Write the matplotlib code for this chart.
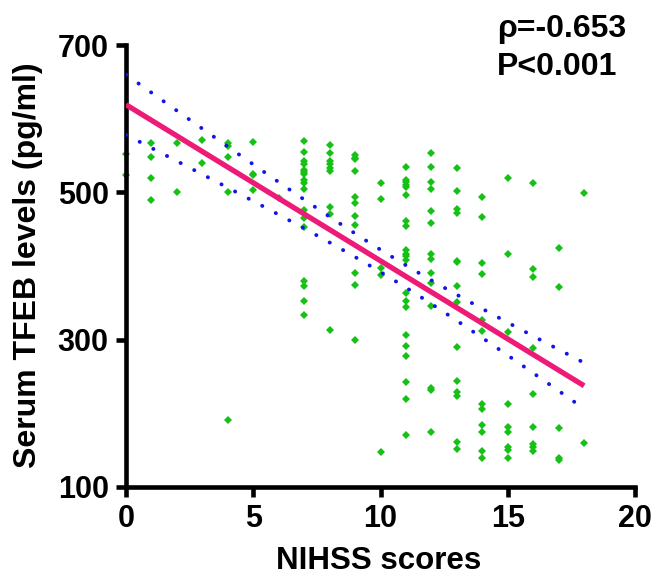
import numpy as np
import matplotlib
matplotlib.use('Agg')
import matplotlib.pyplot as plt

plt.rcParams['font.family'] = ['Liberation Sans', 'DejaVu Sans']
plt.rcParams['font.weight'] = 'bold'

# NIHSS score -> serum TFEB levels (pg/ml)
nihss_scores = list(range(19))
tfeb_levels = [
    [552, 524],
    [567, 548, 519, 489],
    [567, 500],
    [571, 540],
    [567, 563, 548, 501, 191],
    [568, 525, 523, 503],
    [492],
    [570, 555, 542, 539, 530, 528, 525, 517, 513, 504, 476, 465, 453, 380, 373, 353, 333],
    [564, 554, 542, 539, 533, 529, 480, 471, 313],
    [551, 547, 545, 529, 494, 485, 468, 456, 391, 374, 299],
    [512, 491, 397, 388, 148],
    [534, 517, 514, 510, 507, 497, 461, 454, 422, 416, 413, 408, 363, 353, 345, 307, 292, 278, 243, 220, 170],
    [554, 534, 514, 504, 475, 458, 416, 410, 390, 377, 346, 235, 232, 174],
    [533, 502, 478, 472, 407, 405, 373, 351, 290, 244, 229, 223, 161, 151],
    [494, 467, 404, 389, 327, 312, 212, 206, 184, 175, 149, 139],
    [520, 416, 310, 213, 181, 175, 154, 150, 140],
    [512, 396, 385, 289, 226, 181, 158, 154, 149],
    [425, 372, 180, 140, 137],
    [499, 160],
]

# regression line and 95% CI as drawn in the figure (some points overlap,
# so a fit on the visible points alone comes out a bit flatter)
fit_intercept = 619
fit_slope = -21.2
ci_halfwidth_at_mean = 15

rho_text = 'ρ=-0.653'
p_text = 'P<0.001'

x = np.concatenate([[s] * len(v) for s, v in zip(nihss_scores, tfeb_levels)]).astype(float)
y = np.concatenate(tfeb_levels).astype(float)

n = len(x)
xm = x.mean()
sxx = np.sum((x - xm) ** 2)
xf = np.linspace(x.min(), x.max(), 200)
yf = fit_intercept + fit_slope * xf
hw = ci_halfwidth_at_mean * np.sqrt(1 + n * (xf - xm) ** 2 / sxx)
upper = yf + hw
lower = yf - hw

fig = plt.figure(figsize=(6.54, 5.76), dpi=100)
ax = fig.add_axes([126 / 654, 1 - 487 / 576, 509 / 654, 442 / 576])

ax.plot(x, y, 'D', color='#16c116', ms=4.2, mew=0, clip_on=False, zorder=2)
ax.plot(xf, yf, color='#ee1a78', lw=3.8, solid_capstyle='butt', zorder=3)
dot = (0, (0.05, 3.9))
ax.plot(xf, upper, color='#1414e6', lw=2.8, linestyle=dot, dash_capstyle='round', zorder=3)
ax.plot(xf, lower, color='#1414e6', lw=2.8, linestyle=dot, dash_capstyle='round', zorder=3)

ax.set_xlim(0, 20)
ax.set_ylim(100, 700)
ax.set_xticks([0, 5, 10, 15, 20])
ax.set_yticks([100, 300, 500, 700])
for side in ['top', 'right']:
    ax.spines[side].set_visible(False)
for side in ['left', 'bottom']:
    ax.spines[side].set_linewidth(3.3)
    ax.spines[side].set_capstyle('projecting')
ax.tick_params(width=3.3, length=7.5, labelsize=22, pad=5)

fig.text(28 / 654, 1 - 265 / 576, 'Serum TFEB levels (pg/ml)', rotation=90,
         ha='center', va='center', fontsize=23, fontweight='bold')
fig.text(379 / 654, 1 - 569 / 576, 'NIHSS scores', ha='center', va='baseline',
         fontsize=22.5, fontweight='bold')
fig.text(497 / 654, 1 - 37 / 576, rho_text, ha='left', va='baseline',
         fontsize=23, fontweight='bold')
fig.text(497 / 654, 1 - 75 / 576, p_text, ha='left', va='baseline',
         fontsize=23, fontweight='bold')

fig.savefig('out.png', dpi=100)
